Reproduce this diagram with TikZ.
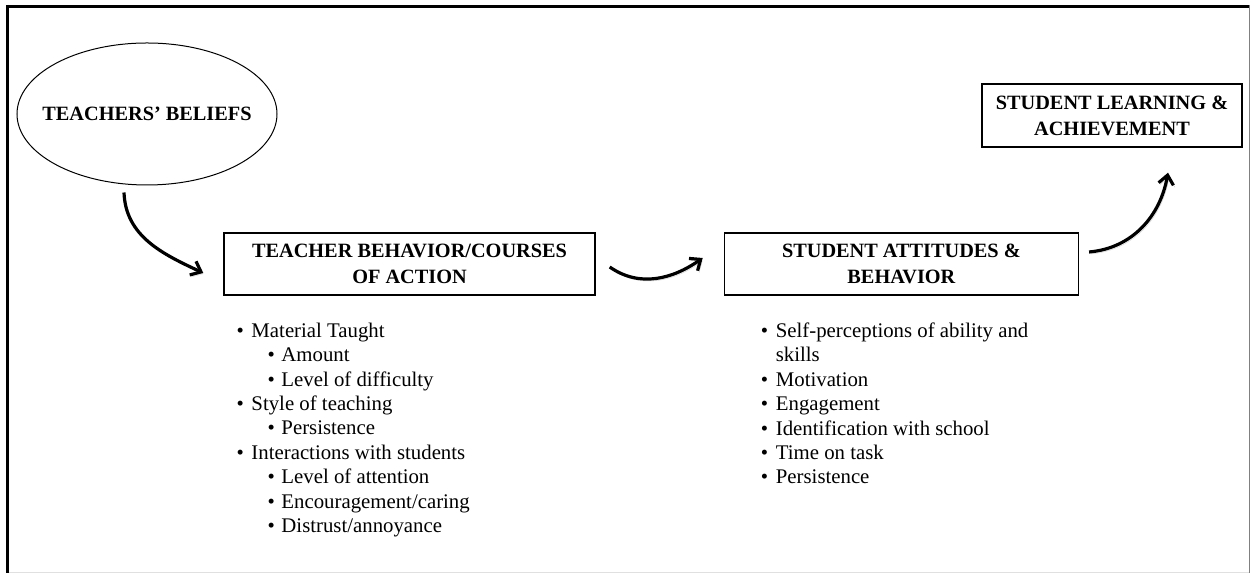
\documentclass[tikz,border=0pt]{standalone}
\usepackage{fontspec}
\setmainfont{Liberation Serif}
\usetikzlibrary{calc}
\usetikzlibrary{positioning}
\usetikzlibrary{shapes.geometric}
\usetikzlibrary{arrows.meta}

\newcommand{\itm}{\makebox[15pt][l]{•}}
\newcommand{\subitm}{\hspace*{31pt}\makebox[14pt][l]{•}}

\begin{document}
\begin{tikzpicture}[x=1pt,y=1pt]

\tikzset{every node/.style={align=center, inner sep=0pt}}
\tikzset{box/.style={draw=black, line width=1.4pt, minimum height=62pt, font=\bfseries\fontsize{20.3}{26}\selectfont}}
\tikzset{items/.style={align=left, font=\fontsize{20.8}{24.4}\selectfont}}
\tikzset{flow/.style={line width=3.2pt, -{Straight Barb[length=9pt,width=15pt]},
  preaction={draw=black!18, transform canvas={shift={(1.5pt,-2pt)}}}}}

\useasboundingbox (0,0) rectangle (1251,575);

% frame
\draw[line width=3pt] (6,568.5) -- (1249,568.5);
\draw[line width=3pt] (7.5,570) -- (7.5,2);
\draw[gray, line width=1.5pt] (1249.5,570) -- (1249.5,2);
\draw[black!12, line width=1.5pt] (9,2.5) -- (1249,2.5);

\node[ellipse, draw, line width=1pt, minimum width=260pt, minimum height=142pt, font=\bfseries\fontsize{20.3}{24}\selectfont] (beliefs) at (147,461) {\makebox[0pt]{TEACHERS' BELIEFS}};

\node[box, minimum width=371pt] (tbbox) at (409.5,311) {TEACHER BEHAVIOR/COURSES\\OF ACTION};
\node[box, minimum width=354pt, right=128pt of tbbox] (sabox) {STUDENT ATTITUDES \&\\BEHAVIOR};
\node[box, minimum width=260pt, minimum height=63pt] (slbox) at (1112,459.5) {STUDENT LEARNING \&\\ACHIEVEMENT};

\node[items, below right=27pt and 13pt of tbbox.south west] (tbitems) {\itm Material Taught\\
\subitm Amount\\
\subitm Level of difficulty\\
\itm Style of teaching\\
\subitm Persistence\\
\itm Interactions with students\\
\subitm Level of attention\\
\subitm Encouragement/caring\\
\subitm Distrust/annoyance};

\node[items, below right=27pt and 37pt of sabox.south west] (saitems) {\itm Self-perceptions of ability and\\
\hspace*{15pt}skills\\
\itm Motivation\\
\itm Engagement\\
\itm Identification with school\\
\itm Time on task\\
\itm Persistence};

\draw[flow] ([xshift=-23pt,yshift=-7pt]beliefs.south) to[out=-88,in=155] ([xshift=-20pt,yshift=-9pt]tbbox.west);
\draw[flow] ([xshift=14pt,yshift=-3pt]tbbox.east) to[out=-35,in=-145] ([xshift=-21pt,yshift=6pt]sabox.west);
\draw[flow] ([xshift=10pt,yshift=12pt]sabox.east) to[out=5,in=-100] ([xshift=56pt,yshift=-25pt]slbox.south);
\end{tikzpicture}
\end{document}
